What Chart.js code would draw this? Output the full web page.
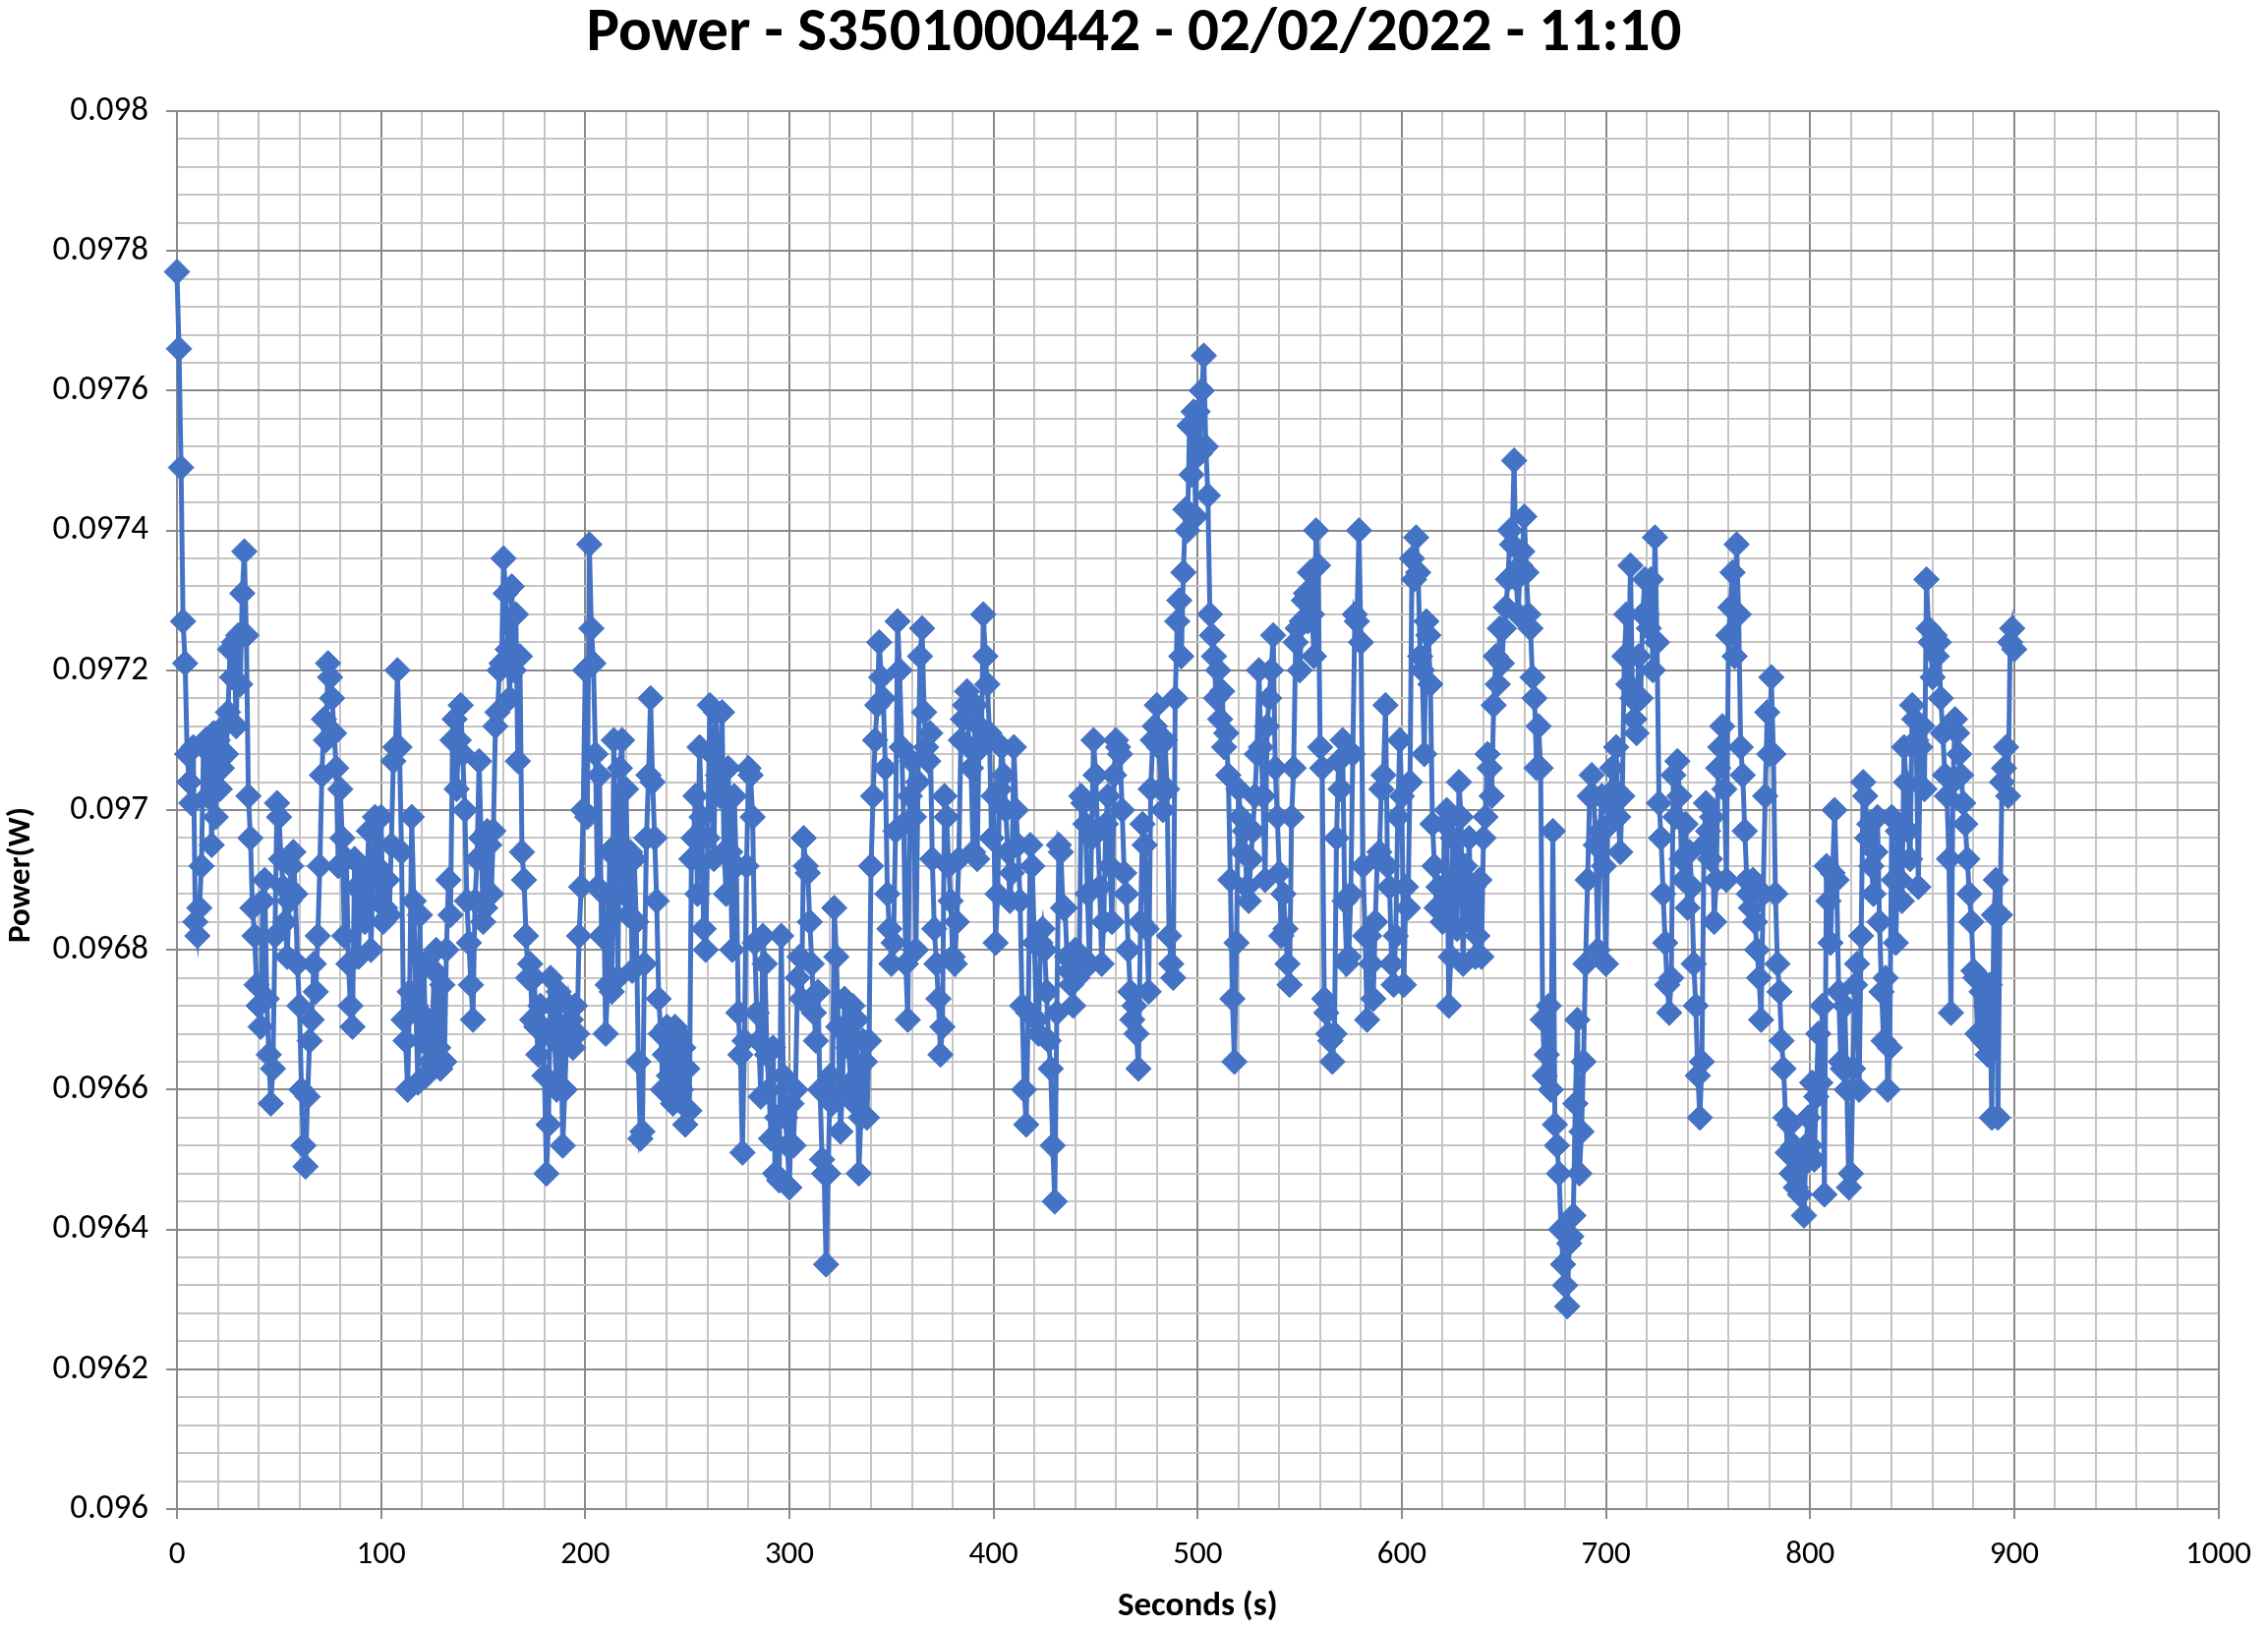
<!DOCTYPE html>
<html><head><meta charset="utf-8">
<script src="https://cdn.jsdelivr.net/npm/chart.js@4.4.1/dist/chart.umd.min.js"></script>
<style>html,body{margin:0;padding:0;background:#fff;overflow:hidden}#wrap{width:2307px;height:1657px}</style>
</head><body><div id="wrap"><canvas id="c" width="2307" height="1657"></canvas></div>
<script>
const chartTitle = 'Power - S3501000442 - 02/02/2022 - 11:10';
const xAxisTitle = 'Seconds (s)';
const yAxisTitle = 'Power(W)';
const xTickLabels = ['0','100','200','300','400','500','600','700','800','900','1000'];
const yTickLabels = ['0.096','0.0962','0.0964','0.0966','0.0968','0.097','0.0972','0.0974','0.0976','0.0978','0.098'];

// Power (W), one reading per second, seconds 0-99, 100-199, ...
const power000 = [0.09777,0.09766,0.09749,0.09727,0.09721,0.09708,0.09704,0.09701,0.09709,0.09684,
0.09682,0.09686,0.09692,0.09709,0.0971,0.09702,0.09709,0.09695,0.09711,0.09699,
0.0971,0.09703,0.09706,0.09712,0.09708,0.09714,0.09723,0.09719,0.09724,0.09712,
0.09725,0.09718,0.09731,0.09737,0.09725,0.09702,0.09696,0.09686,0.09682,0.09675,
0.09672,0.09669,0.09687,0.0969,0.09673,0.09665,0.09658,0.09663,0.09682,0.09701,
0.09699,0.09693,0.09689,0.09684,0.09679,0.09687,0.09692,0.09694,0.09688,0.09678,
0.09672,0.0966,0.09652,0.09649,0.09659,0.09667,0.0967,0.09678,0.09674,0.09682,
0.09692,0.09705,0.09713,0.0971,0.09721,0.09719,0.09716,0.09711,0.09706,0.09692,
0.09703,0.09696,0.09682,0.09693,0.09678,0.09672,0.09669,0.09693,0.09689,0.09679,
0.09692,0.09688,0.09684,0.0969,0.09697,0.0968,0.0969,0.09699,0.09692,0.09687];
const power100 = [0.09699,0.09684,0.09686,0.0969,0.09685,0.09695,0.09707,0.09709,0.0972,0.09709,
0.09694,0.0967,0.09667,0.0966,0.09674,0.09699,0.09687,0.09672,0.09661,0.09685,
0.09667,0.09678,0.09662,0.0967,0.09664,0.09668,0.09677,0.0968,0.09666,0.09663,
0.09675,0.09664,0.0968,0.0969,0.09685,0.0971,0.09713,0.09703,0.0971,0.09715,
0.09708,0.097,0.09687,0.09681,0.09675,0.0967,0.09687,0.09693,0.09707,0.09696,
0.09684,0.09686,0.09697,0.09695,0.09688,0.09697,0.09712,0.09714,0.0972,0.09721,
0.09736,0.09731,0.09723,0.09716,0.09732,0.0972,0.09728,0.09707,0.09722,0.09694,
0.0969,0.09682,0.09676,0.09678,0.0967,0.09676,0.09669,0.09665,0.09672,0.09669,
0.09662,0.09648,0.09655,0.09676,0.09672,0.09667,0.0966,0.09674,0.09669,0.09652,
0.0966,0.09668,0.09672,0.0967,0.09666,0.09672,0.09668,0.09682,0.09689,0.097];
const power200 = [0.0972,0.09699,0.09738,0.09726,0.09721,0.09708,0.09689,0.09705,0.09682,0.09688,
0.09668,0.09675,0.09694,0.09674,0.0971,0.09695,0.09676,0.09706,0.0971,0.09688,
0.09703,0.09685,0.09694,0.09677,0.09693,0.09684,0.09664,0.09653,0.09654,0.09678,
0.09696,0.09705,0.09716,0.09704,0.09696,0.09687,0.09673,0.09668,0.0966,0.09665,
0.09669,0.09662,0.09667,0.09658,0.09669,0.09661,0.09668,0.0966,0.09666,0.09655,
0.09663,0.09657,0.09693,0.09696,0.09702,0.09688,0.09709,0.09699,0.09683,0.0968,
0.09696,0.09715,0.09708,0.09693,0.09714,0.09705,0.09702,0.09714,0.09694,0.09688,
0.09706,0.09694,0.0968,0.09702,0.09692,0.09671,0.09665,0.09651,0.09667,0.09692,
0.09706,0.09705,0.09699,0.09681,0.09671,0.09667,0.09659,0.09682,0.09678,0.09665,
0.0966,0.09653,0.09666,0.09648,0.09656,0.09647,0.09682,0.09662,0.09656,0.09652];
const power300 = [0.09646,0.09658,0.09652,0.0966,0.09676,0.09679,0.09673,0.09696,0.09692,0.09691,
0.09684,0.09678,0.09671,0.09667,0.09674,0.0966,0.0965,0.09648,0.09635,0.09648,
0.09662,0.09658,0.09686,0.09679,0.09669,0.09654,0.0966,0.09673,0.09669,0.09666,
0.09661,0.09672,0.09658,0.0967,0.09648,0.09656,0.09667,0.09664,0.09656,0.09667,
0.09692,0.09702,0.0971,0.09715,0.09724,0.09719,0.09716,0.09706,0.09688,0.09683,
0.09678,0.09681,0.09697,0.09727,0.0972,0.09709,0.09698,0.09678,0.0967,0.09702,
0.09707,0.09699,0.0968,0.09704,0.09722,0.09726,0.09714,0.09709,0.09707,0.09711,
0.09693,0.09683,0.09678,0.09673,0.09665,0.09669,0.09702,0.09699,0.09692,0.09687,
0.09679,0.09678,0.09684,0.09693,0.0971,0.09713,0.09715,0.09717,0.09709,0.09706,
0.09694,0.09715,0.09693,0.09712,0.09709,0.09728,0.09722,0.09718,0.09711,0.09696];
const power400 = [0.09702,0.09681,0.09688,0.09703,0.09709,0.09705,0.097,0.09694,0.09687,0.09691,
0.09709,0.097,0.09695,0.09687,0.09672,0.0966,0.09655,0.09671,0.09695,0.09692,
0.09681,0.0967,0.09668,0.09681,0.09683,0.0968,0.09674,0.09667,0.09663,0.09652,
0.09644,0.09671,0.09695,0.09694,0.09686,0.09686,0.09679,0.09677,0.09675,0.09672,
0.0968,0.09676,0.09679,0.09702,0.09701,0.09698,0.09688,0.09678,0.09696,0.0971,
0.09705,0.09697,0.09689,0.09678,0.09684,0.09698,0.09702,0.09692,0.09684,0.09705,
0.0971,0.09709,0.09708,0.097,0.09691,0.09688,0.0968,0.09674,0.0967,0.09672,
0.09668,0.09663,0.09684,0.09698,0.09695,0.09683,0.09674,0.09703,0.0971,0.09712,
0.09715,0.09709,0.09703,0.097,0.0971,0.09703,0.09682,0.09678,0.09676,0.09716,
0.09727,0.0973,0.09722,0.09734,0.09743,0.0974,0.09755,0.09748,0.09757,0.09742];
const power500 = [0.09757,0.09751,0.0976,0.09765,0.09752,0.09745,0.09728,0.09725,0.09722,0.09716,
0.0972,0.09713,0.09717,0.09709,0.09711,0.09705,0.0969,0.09673,0.09664,0.09681,
0.09703,0.09699,0.09694,0.09697,0.09689,0.09687,0.09693,0.09697,0.09702,0.09708,
0.0972,0.09709,0.09702,0.0969,0.09712,0.09716,0.0972,0.09725,0.09706,0.09699,
0.09691,0.09682,0.09688,0.09683,0.09678,0.09675,0.09699,0.09706,0.09724,0.09726,
0.0972,0.09727,0.0973,0.09731,0.09727,0.09734,0.09728,0.09722,0.0974,0.09735,
0.09709,0.09706,0.09673,0.09671,0.09668,0.09667,0.09664,0.09668,0.09696,0.09707,
0.09703,0.0971,0.09687,0.09678,0.09679,0.09688,0.09708,0.09728,0.09727,0.0974,
0.09724,0.09692,0.09682,0.0967,0.09682,0.09678,0.09673,0.09684,0.09693,0.09694,
0.09703,0.09705,0.09715,0.09692,0.09689,0.09678,0.09675,0.09682,0.09699,0.0971];
const power600 = [0.09702,0.09675,0.09689,0.09686,0.09704,0.09736,0.09733,0.09739,0.09734,0.09722,
0.0972,0.09708,0.09727,0.09725,0.09718,0.09698,0.09692,0.09686,0.09689,0.09686,
0.09684,0.09698,0.097,0.09672,0.09679,0.09696,0.09688,0.09683,0.09704,0.09699,
0.09678,0.09692,0.09687,0.09696,0.09684,0.09689,0.09679,0.09682,0.0969,0.09679,
0.09696,0.09699,0.09708,0.09706,0.09702,0.09715,0.09722,0.09718,0.09726,0.09721,
0.09726,0.09729,0.09733,0.0974,0.09738,0.0975,0.09733,0.09728,0.09735,0.09737,
0.09742,0.09734,0.09728,0.09726,0.09719,0.09716,0.09706,0.09712,0.09706,0.0967,
0.09662,0.09665,0.09672,0.0966,0.09697,0.09655,0.09652,0.09648,0.0964,0.09635,
0.09632,0.09629,0.09638,0.09639,0.09642,0.09658,0.0967,0.09648,0.09654,0.09664,
0.09678,0.0969,0.09702,0.09705,0.09702,0.09695,0.0968,0.09697,0.09702,0.09692];
const power700 = [0.09678,0.09701,0.09698,0.09706,0.09703,0.09709,0.09699,0.09694,0.09702,0.09722,
0.09728,0.09718,0.09735,0.09716,0.09713,0.09711,0.09722,0.09716,0.09728,0.09733,
0.09728,0.09726,0.09733,0.0972,0.09739,0.09724,0.09701,0.09696,0.09688,0.09681,
0.09675,0.09671,0.09676,0.09705,0.09699,0.09707,0.09702,0.09693,0.0969,0.09698,
0.09686,0.09694,0.09689,0.09678,0.09672,0.09662,0.09656,0.09664,0.09695,0.09701,
0.09697,0.09693,0.09699,0.09684,0.0969,0.09706,0.09709,0.09712,0.09703,0.0969,
0.09725,0.09729,0.09734,0.09722,0.09738,0.09728,0.09709,0.09705,0.09697,0.0969,
0.09688,0.09686,0.0969,0.09684,0.0968,0.09676,0.0967,0.09688,0.09702,0.09714,
0.09708,0.09719,0.09708,0.09688,0.09678,0.09674,0.09667,0.09663,0.09656,0.09651,
0.09655,0.09648,0.09652,0.09646,0.0965,0.09645,0.09649,0.09642,0.09652,0.09656];
const power800 = [0.09652,0.09661,0.0965,0.09659,0.09668,0.09661,0.09672,0.09645,0.09692,0.09687,
0.09681,0.09691,0.097,0.0969,0.09674,0.09664,0.09663,0.09672,0.0966,0.09646,
0.09648,0.09663,0.09675,0.09678,0.0966,0.09682,0.09704,0.09702,0.09696,0.09698,
0.09692,0.09688,0.09694,0.09699,0.09684,0.09674,0.09667,0.09676,0.0966,0.09666,
0.09699,0.0969,0.09681,0.09697,0.0969,0.09687,0.09709,0.09704,0.09697,0.09693,
0.09715,0.09713,0.0971,0.09689,0.09709,0.09712,0.09703,0.09733,0.09726,0.09724,
0.09719,0.09725,0.09722,0.09724,0.09716,0.09711,0.09705,0.09702,0.09693,0.09671,
0.09704,0.09713,0.09711,0.09708,0.09705,0.09701,0.09698,0.09693,0.09688,0.09684,
0.09677,0.09676,0.09668,0.09676,0.09674,0.09667,0.09672,0.09665,0.09675,0.09656,
0.09685,0.0969,0.09656,0.09685,0.09704,0.09706,0.09709,0.09702,0.09724,0.09726,
0.09723];
const powerBlocks = [power000, power100, power200, power300, power400, power500, power600, power700, power800];
const blockStartSeconds = [0, 100, 200, 300, 400, 500, 600, 700, 800];

const points = [];
powerBlocks.forEach((blk, b) => blk.forEach((v, i) => points.push({x: blockStartSeconds[b] + i, y: v})));

const FONT = 'Carlito, Calibri, Lato, "Open Sans", sans-serif';
const MAJOR = '#8a8a8a';
const MINOR = '#c4c4c4';
const BLUE = '#4472C4';

const isMajorX = v => Math.round(v) % 100 === 0;
const isMajorY = v => Math.round(v * 1e5) % 20 === 0;

// y-axis title drawn at its place in the reference (left margin, below centre)
const yTitlePlugin = {
  id: 'yTitle',
  afterDraw(chart) {
    const ctx = chart.ctx;
    ctx.save();
    ctx.translate(22, 890);
    ctx.rotate(-Math.PI / 2);
    ctx.font = 'bold 33px ' + FONT;
    ctx.fillStyle = '#000';
    ctx.textAlign = 'center';
    ctx.textBaseline = 'middle';
    ctx.fillText(yAxisTitle, 0, 0);
    ctx.restore();
  }
};

new Chart(document.getElementById('c'), {
  type: 'line',
  data: { datasets: [{
    data: points,
    borderColor: BLUE, backgroundColor: BLUE, borderWidth: 5,
    pointStyle: 'rectRot', pointRadius: 13, pointBorderWidth: 1,
    pointBackgroundColor: BLUE, pointBorderColor: BLUE,
    tension: 0, clip: false, xAxisID: 'x', yAxisID: 'y'
  }]},
  plugins: [yTitlePlugin],
  options: {
    responsive: false, animation: false, devicePixelRatio: 1,
    layout: { padding: 0 },
    plugins: {
      legend: { display: false }, tooltip: { enabled: false },
      title: { display: true, text: chartTitle, color: '#000',
        font: { family: FONT, size: 63, weight: 'bold', lineHeight: 1 },
        padding: { top: 4, bottom: 46 } }
    },
    scales: {
      x: {
        type: 'linear', position: 'bottom', min: 0, max: 1000,
        ticks: { stepSize: 20, autoSkip: false, maxRotation: 0, minRotation: 0, color: '#000',
          font: { family: FONT, size: 33 }, padding: 17,
          callback: v => isMajorX(v) ? xTickLabels[Math.round(v / 100)] : '' },
        grid: { lineWidth: 2, tickLength: 10,
          color: c => (c.tick && isMajorX(c.tick.value)) ? MAJOR : MINOR,
          tickColor: c => (c.tick && isMajorX(c.tick.value)) ? MAJOR : 'rgba(0,0,0,0)' },
        border: { color: MAJOR, width: 2 },
        title: { display: true, text: xAxisTitle, color: '#000',
          font: { family: FONT, size: 35, weight: 'bold' }, padding: { top: 6, bottom: 2 } },
        afterFit: s => { s.height = 122; }
      },
      y: {
        type: 'linear', position: 'left', min: 0.096, max: 0.098,
        ticks: { stepSize: 0.00004, autoSkip: false, color: '#000',
          font: { family: FONT, size: 35 }, padding: 18,
          callback: v => isMajorY(v) ? yTickLabels[Math.round((v - 0.096) * 1e5 / 20)] : '' },
        grid: { lineWidth: 2, tickLength: 11,
          color: c => (c.tick && isMajorY(c.tick.value)) ? MAJOR : MINOR,
          tickColor: c => (c.tick && isMajorY(c.tick.value)) ? MAJOR : 'rgba(0,0,0,0)' },
        border: { color: MAJOR, width: 2 },
        title: { display: false },
        afterFit: s => { s.width = 180; }
      },
      rightSpace: {
        type: 'linear', position: 'right', display: true,
        ticks: { display: false }, grid: { display: false }, border: { display: false },
        afterFit: s => { s.width = 46; }
      }
    }
  }
});
</script></body></html>
